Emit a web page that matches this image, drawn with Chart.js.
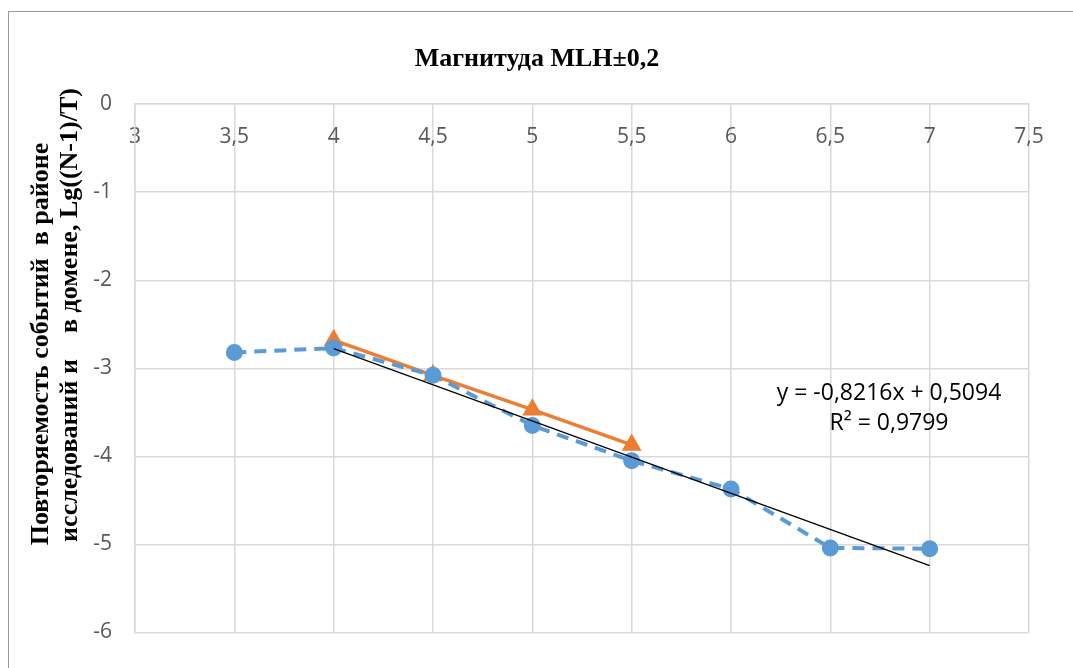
<!DOCTYPE html>
<html>
<head>
<meta charset="utf-8">
<script src="https://cdn.jsdelivr.net/npm/chart.js@4"></script>
<style>
  html,body{margin:0;padding:0;background:#fff;}
  #wrap{position:relative;width:1073px;height:668px;overflow:hidden;}
  #frame{position:absolute;left:8px;top:11px;width:1100px;height:700px;border:1px solid #9a9a9a;}
  canvas{position:absolute;left:0;top:0;}
</style>
</head>
<body>
<div id="wrap">
  <div id="frame"></div>
  <canvas id="c" width="1073" height="668"></canvas>
</div>
<script>
// ── Data ────────────────────────────────────────────────────────────
const magX     = [3.5, 4, 4.5, 5, 5.5, 6, 6.5, 7];
const regionY  = [-2.82, -2.77, -3.08, -3.65, -4.05, -4.37, -5.04, -5.05];
const domainX  = [4, 4.5, 5, 5.5];
const domainY  = [-2.68, -3.08, -3.47, -3.87];
const trendX   = [4, 7];
const slope = -0.8216, intercept = 0.5094;
const xTicks = [3, 3.5, 4, 4.5, 5, 5.5, 6, 6.5, 7, 7.5];
const yTicks = [0, -1, -2, -3, -4, -5, -6];

const pts = (xs, ys) => xs.map((x,i) => ({x, y: ys[i]}));
const comma = v => String(v).replace('.', ',');
const GRID = '#d9d9d9';

// ── Y title + trend label ──────────────────────────────────────────
const textPlugin = {
  id: 'texts',
  afterDraw(chart) {
    const ctx = chart.ctx;
    ctx.save();
    ctx.fillStyle = '#000';
    ctx.font = 'bold 26px "Liberation Serif"';
    ctx.textAlign = 'center'; ctx.textBaseline = 'middle';
    [['Повторяемость событий  в районе', 41, 344],
     ['исследований и    в домене, Lg((N-1)/T)', 70, 315]].forEach(([t,x,y])=>{
      ctx.save(); ctx.translate(x,y); ctx.rotate(-Math.PI/2); ctx.fillText(t,0,0); ctx.restore();
    });
    ctx.font = '23px "Open Sans"';
    ctx.fillText('y = -0,8216x + 0,5094', 889, 393);
    ctx.fillText('R² = 0,9799', 889, 423);
    ctx.restore();
  }
};

new Chart(document.getElementById('c'), {
  type: 'scatter',
  data: {
    datasets: [
      { data: pts(trendX, trendX.map(x => slope*x + intercept)), showLine:true,
        borderColor:'#000', borderWidth:1.2, pointRadius:0 },
      { data: pts(magX, regionY), showLine:true, borderColor:'#5B9BD5', borderWidth:4,
        borderDash:[12,8], pointRadius:6.5, pointBackgroundColor:'#5B9BD5', pointBorderColor:'#5B9BD5' },
      { data: pts(domainX, domainY), showLine:true, borderColor:'#ED7D31', borderWidth:3.5,
        pointStyle:'triangle', pointRadius:8, pointBackgroundColor:'#ED7D31', pointBorderColor:'#ED7D31' }
    ]
  },
  options: {
    responsive:false, animation:false,
    layout:{ padding:{ left:45, right:44, top:0, bottom:28 } },
    plugins:{
      legend:{display:false}, tooltip:{enabled:false},
      title:{ display:true, text:'Магнитуда MLH±0,2', color:'#000',
        font:{ family:'Liberation Serif', size:26, weight:'bold' }, padding:{top:44, bottom:29} }
    },
    scales:{
      x:{ type:'linear', position:{y:0}, min:3, max:7.5,
        afterBuildTicks: s => { s.ticks = xTicks.map(v => ({value:v})); },
        grid:{ color:GRID, lineWidth:1.5, drawTicks:false },
        border:{ color:GRID, width:1.5 },
        ticks:{ color:'#595959', padding:20, font:{family:'Open Sans', size:21}, callback: comma } },
      y:{ type:'linear', min:-6, max:0,
        afterBuildTicks: s => { s.ticks = yTicks.map(v => ({value:v})); },
        afterFit: s => { s.width = 90; },
        grid:{ color:GRID, lineWidth:1.5, drawTicks:false },
        border:{ color:GRID, width:1.5 },
        ticks:{ color:'#595959', padding:23, font:{family:'Open Sans', size:21}, callback: comma } }
    }
  },
  plugins:[textPlugin]
});
</script>
</body>
</html>
